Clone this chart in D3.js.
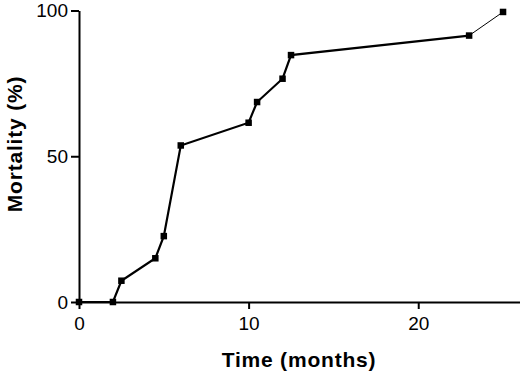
<!DOCTYPE html>
<meta charset="utf-8">
<script src="https://d3js.org/d3.v7.min.js"></script>
<style>
  body { margin: 0; background: #fff; }
  .axis path, .axis line { stroke: #000; stroke-width: 2px; }
  .axis text { font-family: Arial, "Liberation Sans", sans-serif; font-size: 19px; fill: #000; }
  .label { font-family: Arial, "Liberation Sans", sans-serif; font-weight: bold; font-size: 21px; fill: #000; }
</style>
<body></body>
<script>
// time in months, cumulative mortality %
var months = [0, 2, 2.5, 4.5, 5, 6, 10, 10.5, 12, 12.5, 23, 25];
var mortality = [0, 0, 7.3, 15, 22.6, 53.7, 61.5, 68.6, 76.6, 84.7, 91.4, 99.5];
var xTicks = [0, 10, 20];
var yTicks = [0, 50, 100];

var data = months.map(function(m, i) { return {t: m, p: mortality[i]}; });

var width = 520, height = 377;

var svg = d3.select("body").append("svg")
    .attr("width", width)
    .attr("height", height);

var x = d3.scaleLinear().domain([0, 26]).range([79, 520]);
var y = d3.scaleLinear().domain([0, 100]).range([302, 10.5]);

svg.append("g")
  .attr("class", "axis")
  .attr("transform", "translate(0," + y(0) + ")")
  .call(d3.axisBottom(x).tickValues(xTicks).tickSize(7).tickSizeOuter(0).tickPadding(8));

svg.append("g")
  .attr("class", "axis")
  .attr("transform", "translate(" + x(0) + ",0)")
  .call(d3.axisLeft(y).tickValues(yTicks).tickSize(8).tickSizeOuter(0).tickPadding(3));

var line = d3.line()
  .x(function(d) { return x(d.t); })
  .y(function(d) { return y(d.p); });

// thick segments up to 23 months, thin last one
svg.append("path")
  .datum(data.slice(0, data.length - 1))
  .attr("d", line)
  .attr("fill", "none")
  .attr("stroke", "#000")
  .attr("stroke-width", 2.2);

svg.append("path")
  .datum(data.slice(data.length - 2))
  .attr("d", line)
  .attr("fill", "none")
  .attr("stroke", "#000")
  .attr("stroke-width", 1);

var s = 6.5;
svg.selectAll(".pt")
  .data(data).enter().append("rect")
  .attr("class", "pt")
  .attr("x", function(d) { return x(d.t) - s / 2; })
  .attr("y", function(d) { return y(d.p) - s / 2; })
  .attr("width", s)
  .attr("height", s)
  .attr("fill", "#000");

svg.append("text")
  .attr("class", "label")
  .attr("x", 299)
  .attr("y", 367)
  .attr("text-anchor", "middle")
  .style("letter-spacing", "0.8px")
  .text("Time (months)");

svg.append("text")
  .attr("class", "label")
  .attr("transform", "translate(22,144) rotate(-90)")
  .attr("text-anchor", "middle")
  .style("letter-spacing", "0.8px")
  .text("Mortality (%)");
</script>
